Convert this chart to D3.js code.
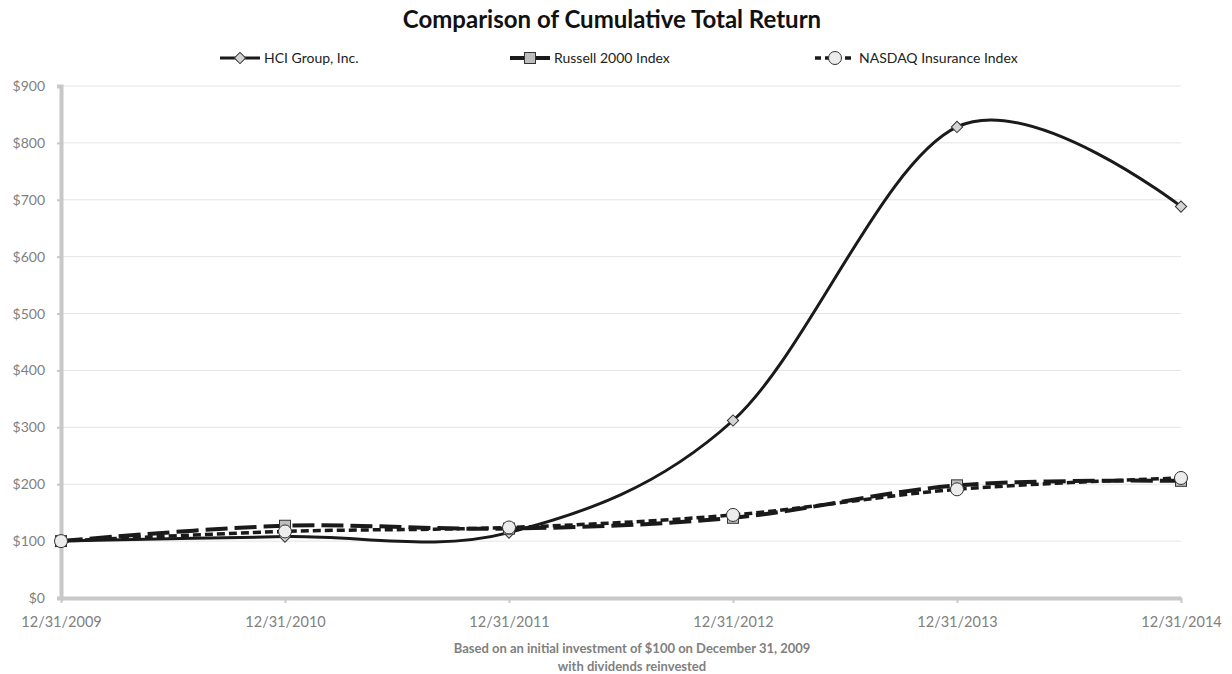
<!DOCTYPE html>
<html>
<head>
<meta charset="utf-8">
<script src="https://cdn.jsdelivr.net/npm/d3@7"></script>
<style>
  body { margin: 0; background: #fff; }
  text { font-family: Lato, "Open Sans", sans-serif; }
</style>
</head>
<body>
<script>
var years = ["12/31/2009", "12/31/2010", "12/31/2011", "12/31/2012", "12/31/2013", "12/31/2014"];
var hci = [100, 108, 115, 312, 828, 688];
var russell = [100, 127, 122, 141, 198, 206];
var nasdaq = [100, 117, 124, 146, 191, 211];
var yTicks = [0, 100, 200, 300, 400, 500, 600, 700, 800, 900];

var W = 1232, H = 674;
var svg = d3.select("body").append("svg")
    .attr("width", W)
    .attr("height", H);

var x = d3.scalePoint().domain(years).range([61, 1181]);
var y = d3.scaleLinear().domain([0, 900]).range([598, 86]);

// title
svg.append("text")
    .attr("x", 612).attr("y", 28)
    .attr("text-anchor", "middle")
    .style("font-size", "24px").style("font-weight", "bold").style("fill", "#111")
    .text("Comparison of Cumulative Total Return");

// grid
svg.append("g").selectAll("line").data(yTicks.slice(1)).enter().append("line")
    .attr("x1", 61).attr("x2", 1181)
    .attr("y1", function(d) { return y(d); }).attr("y2", function(d) { return y(d); })
    .attr("stroke", "#e4e4e4").attr("stroke-width", 1);

// y axis
var yAxis = svg.append("g").attr("transform", "translate(61,0)")
    .call(d3.axisLeft(y).tickValues(yTicks).tickSize(4).tickPadding(12)
      .tickFormat(function(d) { return "$" + d; }));
yAxis.select(".domain").attr("stroke", "#c8c8c8").attr("stroke-width", 4);
yAxis.selectAll(".tick line").attr("stroke", "#c8c8c8").attr("stroke-width", 2);
yAxis.selectAll("text").style("font-size", "14px").style("fill", "#808080");

// x axis
var xAxis = svg.append("g").attr("transform", "translate(0,598)")
    .call(d3.axisBottom(x).tickSize(5).tickPadding(14).tickSizeOuter(0));
xAxis.select(".domain").attr("stroke", "#c8c8c8").attr("stroke-width", 4);
xAxis.selectAll(".tick line").attr("stroke", "#c8c8c8").attr("stroke-width", 2);
xAxis.selectAll("text").style("font-size", "14.5px").style("fill", "#808080");

var line = d3.line()
    .x(function(d, i) { return x(years[i]); })
    .y(function(d) { return y(d); })
    .curve(d3.curveCatmullRom.alpha(0));

var series = [
  { name: "HCI Group, Inc.", data: hci, dash: null, width: 3, marker: "diamond", fill: "#d4d4d4" },
  { name: "Russell 2000 Index", data: russell, dash: "22,7", width: 4, marker: "square", fill: "#bdbdbd" },
  { name: "NASDAQ Insurance Index", data: nasdaq, dash: "8,4", width: 3.5, marker: "circle", fill: "#ececec" }
];

function drawMarker(g, type, cx, cy, fill) {
  if (type === "diamond") {
    g.append("rect").attr("x", cx - 4).attr("y", cy - 4).attr("width", 8).attr("height", 8)
      .attr("transform", "rotate(45," + cx + "," + cy + ")")
      .attr("fill", fill).attr("stroke", "#333").attr("stroke-width", 1);
  } else if (type === "square") {
    g.append("rect").attr("x", cx - 5.5).attr("y", cy - 5.5).attr("width", 11).attr("height", 11)
      .attr("fill", fill).attr("stroke", "#333").attr("stroke-width", 1);
  } else {
    g.append("circle").attr("cx", cx).attr("cy", cy).attr("r", 6.5)
      .attr("fill", fill).attr("stroke", "#333").attr("stroke-width", 1);
  }
}

series.forEach(function(s) {
  svg.append("path").datum(s.data)
    .attr("d", line)
    .attr("fill", "none")
    .attr("stroke", "#1a1a1a")
    .attr("stroke-width", s.width)
    .attr("stroke-dasharray", s.dash);
});
series.forEach(function(s) {
  var g = svg.append("g");
  s.data.forEach(function(d, i) { drawMarker(g, s.marker, x(years[i]), y(d), s.fill); });
});

// legend
var legendX = [220, 510, 815];
series.forEach(function(s, i) {
  var g = svg.append("g");
  var lx = legendX[i], ly = 58;
  g.append("line").attr("x1", lx).attr("x2", lx + 40).attr("y1", ly).attr("y2", ly)
    .attr("stroke", "#1a1a1a").attr("stroke-width", s.width)
    .attr("stroke-dasharray", s.dash ? (i === 1 ? "18,6" : "6,4") : null);
  drawMarker(g, s.marker, lx + 20, ly, s.fill);
  g.append("text").attr("x", lx + 44).attr("y", ly + 5)
    .style("font-size", "14px").style("fill", "#222").text(s.name);
});

// footer
svg.append("text").attr("x", 632).attr("y", 653).attr("text-anchor", "middle")
  .style("font-size", "13px").style("font-weight", "bold").style("fill", "#808080")
  .text("Based on an initial investment of $100 on December 31, 2009");
svg.append("text").attr("x", 632).attr("y", 671).attr("text-anchor", "middle")
  .style("font-size", "13px").style("font-weight", "bold").style("fill", "#808080")
  .text("with dividends reinvested");
</script>
</body>
</html>
